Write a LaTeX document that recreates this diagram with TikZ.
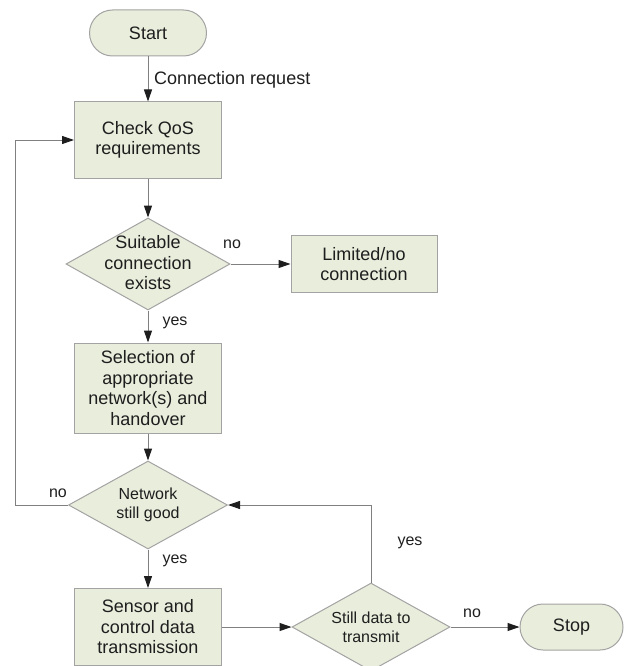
\documentclass[tikz,border=0pt]{standalone}
\usepackage{fontspec}
\setmainfont{Liberation Sans}
\usetikzlibrary{shapes.geometric,arrows.meta}
\definecolor{boxfill}{HTML}{E8EDDC}
\definecolor{boxdraw}{HTML}{A3A3A3}
\definecolor{linegray}{HTML}{808080}
\definecolor{txt}{HTML}{1E1E1E}
\begin{document}
\begin{tikzpicture}[x=1pt,y=-1pt,
  every node/.style={text=txt},
  proc/.style={rectangle,draw=boxdraw,fill=boxfill,line width=1pt,inner sep=0pt,align=center,font=\fontsize{18}{20.5}\selectfont},
  term/.style={rectangle,rounded corners=23pt,draw=boxdraw,fill=boxfill,line width=1pt,inner sep=0pt,minimum height=46pt,font=\fontsize{18}{20.5}\selectfont},
  decis/.style={diamond,draw=boxdraw,fill=boxfill,line width=1pt,inner sep=0pt,aspect=1.8},
  dtext/.style={align=center,inner sep=0pt},
  flow/.style={draw=linegray,line width=1pt,-{Triangle[length=12pt,width=8pt,color=txt]}},
  lbl/.style={font=\fontsize{16}{18}\selectfont,inner sep=0pt}
]
\useasboundingbox (0,0) rectangle (624,666);

\node[term,minimum width=117pt] (start) at (148,33) {Start};
\node[proc,minimum width=147pt,minimum height=76pt] (check) at (148,140) {Check QoS\\requirements};
\node[decis,minimum width=164pt,minimum height=92pt] (suit) at (148,264) {};
\node[dtext,font=\fontsize{18}{20.5}\selectfont] (suitt) at (148,263) {Suitable\\connection\\exists};
\node[proc,minimum width=146pt,minimum height=57pt] (lim) at (364,264) {Limited/no\\connection};
\node[proc,minimum width=147pt,minimum height=90pt] (sel) at (148,388) {Selection of\\appropriate\\network(s) and\\handover};
\node[decis,minimum width=159pt,minimum height=88pt] (net) at (148,505) {};
\node[dtext,font=\fontsize{16}{19}\selectfont] (nett) at (148,505) {Network\\still good};
\node[proc,minimum width=147pt,minimum height=77pt] (sens) at (148,627) {Sensor and\\control data\\transmission};
\node[decis,minimum width=158pt,minimum height=88pt] (still) at (371,627) {};
\node[dtext,font=\fontsize{16}{19}\selectfont] (stillt) at (371,627) {Still data to\\transmit};
\node[term,minimum width=103pt] (stop) at (571.5,627) {Stop};

\coordinate (lpA) at (15,505);
\coordinate (lpB) at (15,140);
\coordinate (rpA) at (371,505);

\draw[flow] (start) -- (check);
\draw[flow] (check) -- (suit.north);
\draw[flow] (suit.east) -- (lim.west);
\draw[flow] (suit.south) -- (sel.north);
\draw[flow] (sel) -- (net.north);
\draw[flow] (net.west) -- (lpA) -- (lpB) -- (check.west);
\draw[flow] (net.south) -- (sens.north);
\draw[flow] (sens.east) -- (still.west);
\draw[flow] (still.north) -- (rpA) -- (net.east);
\draw[flow] (still.east) -- (stop.west);

\node[lbl,anchor=west,font=\fontsize{18}{20}\selectfont] (lcr) at (154,80) {Connection request};
\node[lbl] (lno1) at (232,244) {no};
\node[lbl] (lyes1) at (175,323) {yes};
\node[lbl] (lno2) at (58,493) {no};
\node[lbl] (lyes2) at (175,561) {yes};
\node[lbl] (lyes3) at (410,543) {yes};
\node[lbl] (lno3) at (472,613) {no};
\end{tikzpicture}
\end{document}
